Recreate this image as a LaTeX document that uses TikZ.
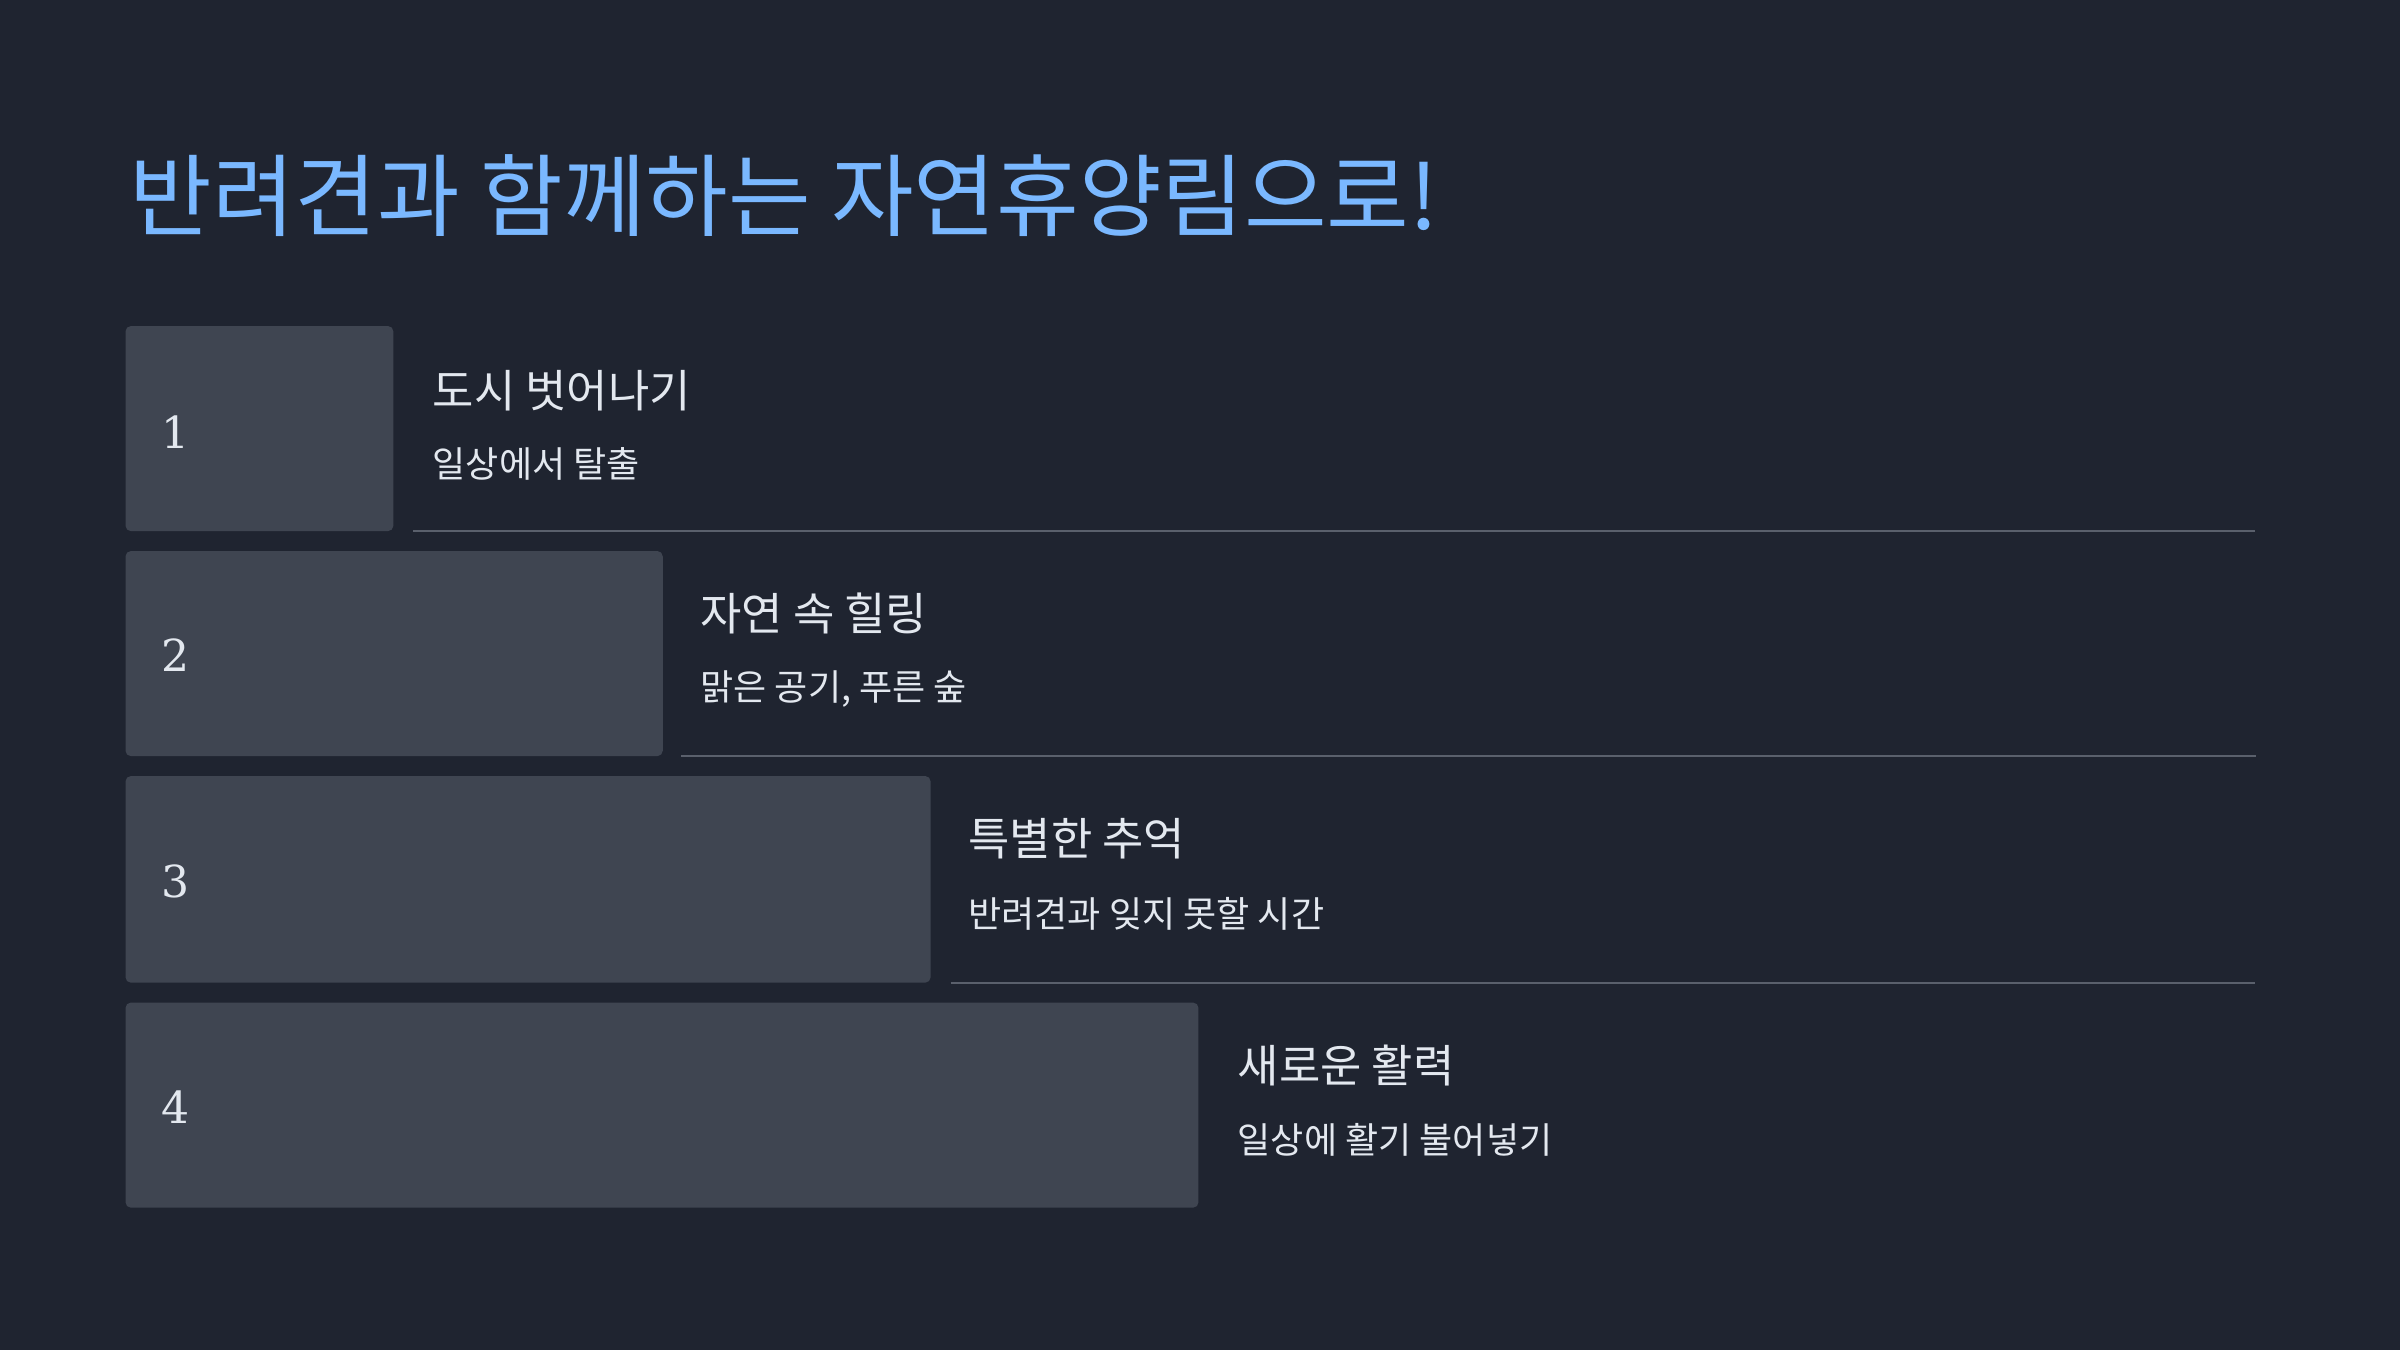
\documentclass[tikz,border=0pt]{standalone}
\usepackage{fontspec}
\setmainfont{DejaVu Serif}
\newfontfamily\kr{Noto Sans CJK KR}
\definecolor{bgcol}{HTML}{1F2430}
\definecolor{barcol}{HTML}{3F4551}
\definecolor{rulecol}{HTML}{5A606C}
\definecolor{headcol}{HTML}{7AB8FF}
\definecolor{txtcol}{HTML}{E3E8EF}
\tikzset{
  bar/.style={fill=barcol, rounded corners=1pt},
  num/.style={anchor=west, inner sep=0pt, text=txtcol, font=\fontsize{8.2}{10}\selectfont},
  itemhead/.style={anchor=west, inner sep=0pt, text=txtcol, font=\kr\fontsize{8.35}{10}\selectfont},
  itemsub/.style={anchor=west, inner sep=0pt, text=txtcol, font=\kr\fontsize{6.7}{8}\selectfont},
  sep/.style={draw=rulecol, line width=0.35pt}
}
\begin{document}
\begin{tikzpicture}[x=0.1mm, y=-0.1mm]
    \fill[bgcol] (0, 0) rectangle (1568, 882);
    \node (title) [anchor=west, inner sep=0pt, text=headcol, font=\kr\fontsize{16.7}{20}\selectfont]
          at (84, 128) {반려견과 함께하는 자연휴양림으로!};
    \fill[bar] (82, 213) rectangle (257, 347)
               (82, 360) rectangle (433, 494)
               (82, 507) rectangle (608, 642)
               (82, 655) rectangle (783, 789);
    \node (n1) [num] at (105, 282) {1};
    \node (n2) [num] at (105, 428) {2};
    \node (n3) [num] at (105, 576) {3};
    \node (n4) [num] at (105, 723) {4};
    \node (h1) [itemhead] at (282, 255) {도시 벗어나기};
    \node (s1) [itemsub] at (282, 303) {일상에서 탈출};
    \node (h2) [itemhead] at (457, 401) {자연 속 힐링};
    \node (s2) [itemsub] at (457, 450) {맑은 공기, 푸른 숲};
    \node (h3) [itemhead] at (632, 548) {특별한 추억};
    \node (s3) [itemsub] at (632, 597) {반려견과 잊지 못할 시간};
    \node (h4) [itemhead] at (808, 696) {새로운 활력};
    \node (s4) [itemsub] at (808, 745) {일상에 활기 불어넣기};
    \draw[sep] (270, 347) -- (1473, 347)
               (445, 494) -- (1474, 494)
               (621, 642) -- (1473, 642);
\end{tikzpicture}
\end{document}
